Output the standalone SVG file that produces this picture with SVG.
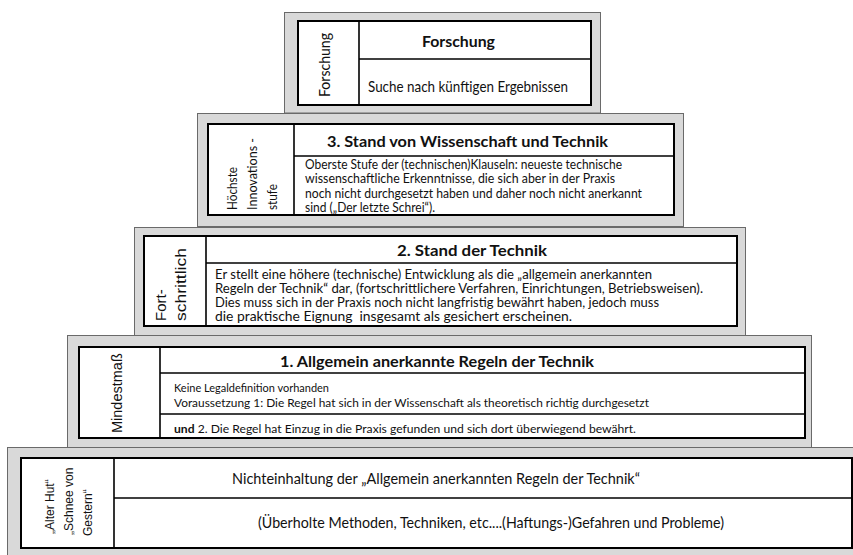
<svg xmlns="http://www.w3.org/2000/svg" width="853" height="555" viewBox="0 0 853 555">
<style>
.grey{fill:#d9d9d9;stroke:#6a6a6a;stroke-width:1}
.tbl{fill:#fff;stroke:#000;stroke-width:2}
.dv{stroke:#000;stroke-width:1.6;fill:none}
text{fill:#111;font-family:Lato,"Open Sans",sans-serif}
.h{font-weight:bold;font-size:16px}
.b{font-size:13px}
.c{font-size:12.5px}
.s{font-size:12px}
.m{font-size:15px}
.a{font-family:"Liberation Sans",Arial,sans-serif}
</style>
<rect width="853" height="555" fill="#fff"/>

<g id="level1">
<rect class="grey" x="7.5" y="447.5" width="860" height="120"/>
<rect class="tbl" x="21" y="458" width="831" height="90"/>
<line class="dv" x1="114" y1="458" x2="114" y2="548"/>
<line class="dv" x1="114" y1="498" x2="852" y2="498"/>
<text class="m" x="232" y="484" textLength="408" lengthAdjust="spacingAndGlyphs">Nichteinhaltung der „Allgemein anerkannten Regeln der Technik“</text>
<text class="m" x="258" y="528" textLength="466" lengthAdjust="spacingAndGlyphs">(Überholte Methoden, Techniken, etc....(Haftungs-)Gefahren und Probleme)</text>
<text class="a s" transform="translate(54,534) rotate(-90)">„Alter Hut“</text>
<text class="a s" transform="translate(73,535) rotate(-90)">„Schnee von</text>
<text class="a s" transform="translate(92,536) rotate(-90)">Gestern“</text>
</g>

<g id="level2">
<rect class="grey" x="67.5" y="335.5" width="744" height="112"/>
<rect class="tbl" x="79" y="347" width="726" height="91"/>
<line class="dv" x1="160" y1="347" x2="160" y2="438"/>
<line class="dv" x1="160" y1="373" x2="805" y2="373"/>
<line class="dv" x1="160" y1="414" x2="805" y2="414"/>
<text class="h" x="280" y="367" textLength="314" lengthAdjust="spacingAndGlyphs">1. Allgemein anerkannte Regeln der Technik</text>
<text class="s" x="174" y="391.5" textLength="155" lengthAdjust="spacingAndGlyphs">Keine Legaldefinition vorhanden</text>
<text class="s" x="174" y="406.5" textLength="475" lengthAdjust="spacingAndGlyphs">Voraussetzung 1: Die Regel hat sich in der Wissenschaft als theoretisch richtig durchgesetzt</text>
<text class="s" x="174" y="433" textLength="462" lengthAdjust="spacingAndGlyphs"><tspan font-weight="bold">und</tspan> 2. Die Regel hat Einzug in die Praxis gefunden und sich dort überwiegend bewährt.</text>
<text class="a" font-size="14.5" transform="translate(122,433) rotate(-90)">Mindestmaß</text>
</g>

<g id="level3">
<rect class="grey" x="134.5" y="227.5" width="611" height="108"/>
<rect class="tbl" x="144" y="236" width="593" height="90"/>
<line class="dv" x1="206" y1="236" x2="206" y2="326"/>
<line class="dv" x1="206" y1="263" x2="737" y2="263"/>
<text class="h" x="397" y="256" textLength="150" lengthAdjust="spacingAndGlyphs">2. Stand der Technik</text>
<text class="c" x="215" y="278.5" textLength="437" lengthAdjust="spacingAndGlyphs">Er stellt eine höhere (technische) Entwicklung als die „allgemein anerkannten</text>
<text class="c" x="215" y="292.5" textLength="488" lengthAdjust="spacingAndGlyphs">Regeln der Technik“ dar, (fortschrittlichere Verfahren, Einrichtungen, Betriebsweisen).</text>
<text class="c" x="215" y="306.5" textLength="444" lengthAdjust="spacingAndGlyphs">Dies muss sich in der Praxis noch nicht langfristig bewährt haben, jedoch muss</text>
<text class="c" x="215" y="320.5" textLength="357" lengthAdjust="spacingAndGlyphs" xml:space="preserve">die praktische Eignung  insgesamt als gesichert erscheinen.</text>
<text class="a" font-size="15" transform="translate(166,321) rotate(-90)">Fort-</text>
<text class="a" font-size="15" transform="translate(186,321) rotate(-90)" textLength="73" lengthAdjust="spacingAndGlyphs">schrittlich</text>
</g>

<g id="level4">
<rect class="grey" x="197.5" y="113.5" width="486" height="113"/>
<rect class="tbl" x="208" y="124" width="466" height="91"/>
<line class="dv" x1="294" y1="124" x2="294" y2="215"/>
<line class="dv" x1="294" y1="156" x2="674" y2="156"/>
<text class="h" x="327" y="147" textLength="281" lengthAdjust="spacingAndGlyphs">3. Stand von Wissenschaft und Technik</text>
<text class="b" x="305" y="168.5" textLength="317" lengthAdjust="spacingAndGlyphs">Oberste Stufe der (technischen)Klauseln: neueste technische</text>
<text class="b" x="305" y="183" textLength="310" lengthAdjust="spacingAndGlyphs">wissenschaftliche Erkenntnisse, die sich aber in der Praxis</text>
<text class="b" x="305" y="197.5" textLength="337" lengthAdjust="spacingAndGlyphs">noch nicht durchgesetzt haben und daher noch nicht anerkannt</text>
<text class="b" x="305" y="212" textLength="130" lengthAdjust="spacingAndGlyphs">sind („Der letzte Schrei“).</text>
<rect x="208" y="214" width="466" height="2" fill="#000"/>
<text class="b" transform="translate(237,210) rotate(-90)" textLength="43" lengthAdjust="spacingAndGlyphs">Höchste</text>
<text class="b" transform="translate(257,210) rotate(-90)" textLength="72" lengthAdjust="spacingAndGlyphs">Innovations -</text>
<text class="b" transform="translate(277,210) rotate(-90)" textLength="26" lengthAdjust="spacingAndGlyphs">stufe</text>
</g>

<g id="level5">
<rect class="grey" x="284.5" y="12.5" width="316" height="100.5"/>
<rect class="tbl" x="298" y="21" width="293" height="84"/>
<line class="dv" x1="359" y1="21" x2="359" y2="105"/>
<line class="dv" x1="359" y1="59" x2="591" y2="59"/>
<text class="h" font-size="17" x="422" y="47" textLength="73" lengthAdjust="spacingAndGlyphs">Forschung</text>
<text class="m" font-size="14" x="368" y="92" textLength="200" lengthAdjust="spacingAndGlyphs">Suche nach künftigen Ergebnissen</text>
<text class="m" transform="translate(330,97) rotate(-90)" textLength="64" lengthAdjust="spacingAndGlyphs">Forschung</text>
</g>

<g id="connectors"></g>
</svg>
